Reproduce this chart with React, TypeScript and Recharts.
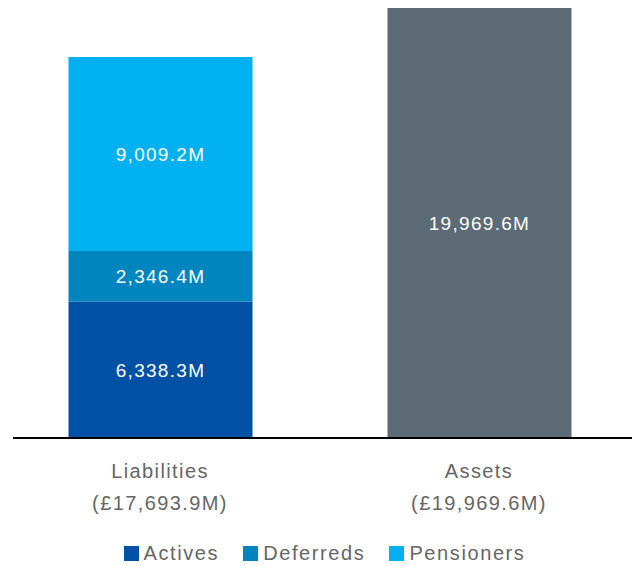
import React from 'react';
import { BarChart, Bar, XAxis, YAxis, Legend, LabelList } from 'recharts';

const categories = ['Liabilities', 'Assets'];
const categoryTotals = ['(£17,693.9M)', '(£19,969.6M)'];
const actives = [6338.3, null];
const deferreds = [2346.4, null];
const pensioners = [9009.2, null];
const assets = [null, 19969.6];

const data = categories.map((name, i) => ({
  name,
  total: categoryTotals[i],
  actives: actives[i],
  deferreds: deferreds[i],
  pensioners: pensioners[i],
  assets: assets[i],
}));

const FONT = '"Liberation Sans", Arial, sans-serif';
const fmt = (v: any) =>
  v == null ? '' : `${Number(v).toLocaleString('en-US', { minimumFractionDigits: 1, maximumFractionDigits: 1 })}M`;

const Tick = (props: any) => {
  const { x, y, payload } = props;
  const idx = categories.indexOf(payload.value);
  return (
    <text x={x} textAnchor="middle" fill="#666" fontFamily={FONT} fontSize={20} letterSpacing={1.4}>
      <tspan x={x} y={y + 40}>{payload.value}</tspan>
      <tspan x={x} y={y + 72}>{categoryTotals[idx]}</tspan>
    </text>
  );
};

const LegendContent = (props: any) => {
  const items = (props.payload || []).filter((p: any) => p.type !== 'none');
  return (
    <div style={{ display: 'flex', justifyContent: 'center', alignItems: 'center', height: 26, gap: 24, fontFamily: FONT, fontSize: 20, letterSpacing: 1.6, color: '#666', paddingLeft: 4 }}>
      {items.map((it: any) => (
        <div key={it.value} style={{ display: 'flex', alignItems: 'center' }}>
          <span style={{ display: 'inline-block', width: 15, height: 15, background: it.color, marginRight: 5 }} />
          <span>{it.value}</span>
        </div>
      ))}
    </div>
  );
};

const labelStyle = { fill: '#fff', fontFamily: FONT, fontSize: 19, letterSpacing: 1.3 } as any;

export default function App() {
  return (
    <div style={{ position: 'absolute', left: 0, top: 0, width: 632, height: 566, background: '#fff' }}>
      <BarChart width={632} height={566} data={data} margin={{ top: 8, right: 0, left: 13, bottom: 0 }}>
        <XAxis
          dataKey="name"
          axisLine={{ stroke: '#000', strokeWidth: 2 }}
          tickLine={false}
          tickSize={0}
          tickMargin={0}
          tick={<Tick />}
          height={102}
          padding={{ left: -12.5, right: -6.5 }}
          interval={0}
        />
        <YAxis hide domain={[0, 19969.6]} />
        <Legend verticalAlign="bottom" content={<LegendContent />} />
        <Bar dataKey="actives" name="Actives" stackId="a" fill="#0051A5" barSize={184} isAnimationActive={false}>
          <LabelList dataKey="actives" position="center" formatter={fmt} style={labelStyle} />
        </Bar>
        <Bar dataKey="deferreds" name="Deferreds" stackId="a" fill="#0085BF" barSize={184} isAnimationActive={false}>
          <LabelList dataKey="deferreds" position="center" formatter={fmt} style={labelStyle} />
        </Bar>
        <Bar dataKey="pensioners" name="Pensioners" stackId="a" fill="#00B0F0" barSize={184} isAnimationActive={false}>
          <LabelList dataKey="pensioners" position="center" formatter={fmt} style={labelStyle} />
        </Bar>
        <Bar dataKey="assets" name="Assets" stackId="a" fill="#5C6B76" barSize={184} legendType="none" isAnimationActive={false}>
          <LabelList dataKey="assets" position="center" formatter={fmt} style={labelStyle} />
        </Bar>
      </BarChart>
    </div>
  );
}
